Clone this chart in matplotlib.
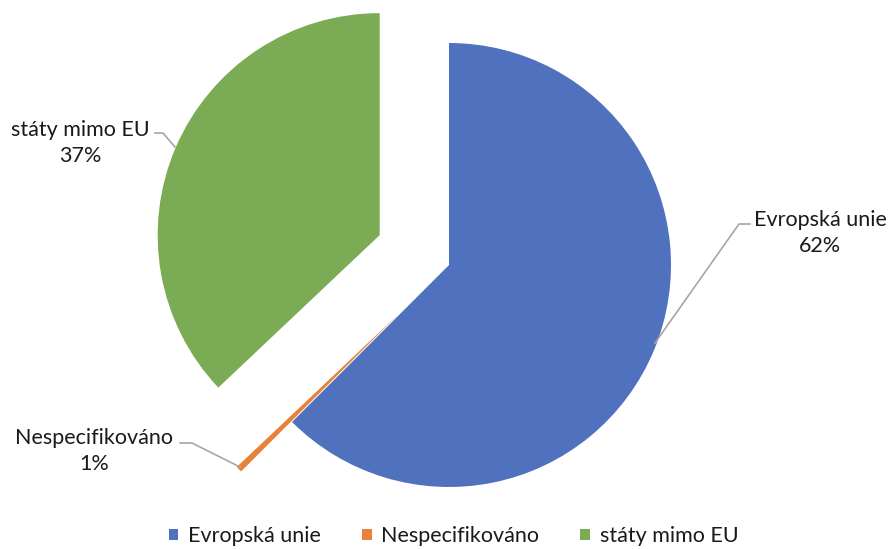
import matplotlib.pyplot as plt
from matplotlib.patches import Patch

# Data
categories = ["Evropská unie", "Nespecifikováno", "státy mimo EU"]
shares = [62.5, 0.45, 37.05]
pct_labels = ["62%", "1%", "37%"]
colors = ["#5072BE", "#E8823A", "#7BAB55"]

W, H = 891, 549
R = 222  # pie radius in pixels
explode = [0.0, 0.32 * R, 0.34 * R]  # matplotlib offsets in data units

plt.rcParams['font.family'] = ['Lato', 'DejaVu Sans']

fig = plt.figure(figsize=(W / 100, H / 100), dpi=100)
ax = fig.add_axes([0, 0, 1, 1])

def fy(y):
    # image y (top-down) -> data y
    return H - y

wedges, _ = ax.pie(shares, colors=colors, explode=explode, startangle=90,
                   counterclock=False, radius=R, center=(449, fy(265)),
                   wedgeprops=dict(linewidth=0), frame=True)
ax.set_xlim(0, W)
ax.set_ylim(0, H)
ax.set_aspect('equal')
ax.axis('off')

# data labels with leader lines
label_pos = [(820, 233), (94, 451), (80, 143)]
leaders = [
    [(750, 224), (739, 224), (655, 343)],
    [(180, 443), (192, 443), (240, 467)],
    [(155, 133), (163, 133), (175, 147)],
]
for cat, pct, (tx, ty), pts in zip(categories, pct_labels, label_pos, leaders):
    ax.text(tx, fy(ty), f"{cat}\n{pct}", ha='center', va='center',
            fontsize=15.5, color='#1a1a1a', linespacing=1.35)
    xs = [p[0] for p in pts]
    ys = [fy(p[1]) for p in pts]
    ax.plot(xs, ys, color='#A6A6A6', linewidth=1.2)

handles = [Patch(facecolor=c, edgecolor='none') for c in colors]
fig.legend(handles, categories, loc='lower center', ncol=3, frameon=False,
           fontsize=15.5, handlelength=0.45, handleheight=0.45, handletextpad=0.45,
           columnspacing=1.9, bbox_to_anchor=(0.509, -0.03),
           labelcolor='#1a1a1a')

fig.savefig("out.png", dpi=100)
